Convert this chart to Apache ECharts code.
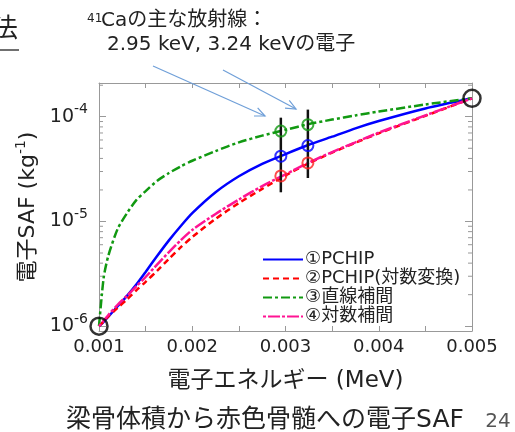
<!DOCTYPE html>
<html>
<head>
<meta charset="utf-8">
<script src="https://cdn.jsdelivr.net/npm/echarts@6/dist/echarts.min.js"></script>
<style>html,body{margin:0;padding:0;background:#fff}#c{width:515px;height:432px}</style>
</head>
<body>
<div id="c"></div>
<script>
// ---- data (x in MeV, y in kg^-1) ----
const xValues   = [0.001, 0.00105, 0.0011, 0.0012, 0.0013, 0.0014, 0.0015, 0.001625, 0.00175, 0.001875, 0.002, 0.00225, 0.0025, 0.00275, 0.003, 0.00325, 0.0035, 0.00375, 0.004, 0.0045, 0.005];
const pchip     = [1.0e-6, 1.1e-6, 1.23e-6, 1.55e-6, 1.95e-6, 2.5e-6, 3.3e-6, 4.7e-6, 6.6e-6, 9.0e-6, 1.2e-5, 1.9e-5, 2.7e-5, 3.55e-5, 4.4e-5, 5.4e-5, 6.45e-5, 7.75e-5, 9.1e-5, 1.2e-4, 1.5e-4];
const pchipLog  = [1.0e-6, 1.11e-6, 1.24e-6, 1.5e-6, 1.8e-6, 2.2e-6, 2.65e-6, 3.4e-6, 4.4e-6, 5.65e-6, 7.1e-6, 1.06e-5, 1.5e-5, 2.05e-5, 2.75e-5, 3.6e-5, 4.55e-5, 5.65e-5, 6.95e-5, 1.02e-4, 1.5e-4];
const linearInt = [1.0e-6, 2.9e-6, 4.7e-6, 8.5e-6, 1.2e-5, 1.6e-5, 1.95e-5, 2.45e-5, 2.9e-5, 3.35e-5, 3.8e-5, 4.7e-5, 5.7e-5, 6.6e-5, 7.5e-5, 8.5e-5, 9.4e-5, 1.03e-4, 1.12e-4, 1.31e-4, 1.5e-4];
const logInt    = [1.0e-6, 1.13e-6, 1.28e-6, 1.6e-6, 1.95e-6, 2.4e-6, 2.95e-6, 3.9e-6, 5.1e-6, 6.6e-6, 8.3e-6, 1.18e-5, 1.62e-5, 2.18e-5, 2.82e-5, 3.65e-5, 4.6e-5, 5.7e-5, 7.05e-5, 1.03e-4, 1.5e-4];
const seriesNames = ['①PCHIP', '②PCHIP(対数変換)', '③直線補間', '④対数補間'];

const markerX   = [0.00295, 0.00324];
const errLow    = [1.9e-5, 2.6e-5];
const errHigh   = [9.8e-5, 1.17e-4];
const pchipMark = [4.2e-5, 5.3e-5];
const linMark   = [7.3e-5, 8.4e-5];
const logMark   = [2.72e-5, 3.62e-5];
const nodeX     = [0.001, 0.005];
const nodeY     = [1.0e-6, 1.5e-4];

const xMin = 0.001, xMax = 0.005, xInterval = 0.0005;
const yMin = 9e-7, yMax = 2.1e-4;
const yMinorTicks = [2e-6,3e-6,4e-6,5e-6,6e-6,7e-6,8e-6,9e-6,2e-5,3e-5,4e-5,5e-5,6e-5,7e-5,8e-5,9e-5,2e-4];

const FONT = "'DejaVu Sans','Noto Sans CJK JP',sans-serif";
const TXT = '#222';
const AX = '#999';

const pair = (xs, ys) => xs.map((x, i) => [x, ys[i]]);

const chart = echarts.init(document.getElementById('c'), null, {renderer: 'canvas'});

function yLabel(v) {
  const e = Math.log10(v);
  if (Math.abs(e - Math.round(e)) > 1e-6) return '';
  return '{b|10}{s|' + Math.round(e) + '}';
}
function xLabel(v) {
  const k = v * 1000;
  if (Math.abs(k - Math.round(k)) > 1e-6) return '';
  return v.toFixed(3);
}

const axisCommonY = {
  type: 'log', logBase: 10, min: yMin, max: yMax,
  axisLine: {show: true, lineStyle: {color: AX, width: 1}},
  axisTick: {show: true, inside: true, length: 7, lineStyle: {color: AX}},
  splitLine: {show: false}, minorTick: {show: false}
};
const axisCommonX = {
  type: 'value', min: xMin, max: xMax, interval: xInterval,
  axisLine: {show: true, lineStyle: {color: AX, width: 1}},
  axisTick: {show: true, inside: true, length: 5, lineStyle: {color: AX}},
  splitLine: {show: false}
};

const lineStyles = [
  {color: '#0000ff', type: 'solid'},
  {color: '#ff0000', type: [6, 4]},
  {color: '#119911', type: [9, 3, 3, 3]},
  {color: '#ff1493', type: [3, 2, 12, 2]}
];
const lineData = [pchip, pchipLog, linearInt, logInt];

const series = lineData.map((ys, i) => ({
  name: seriesNames[i], type: 'line', data: pair(xValues, ys),
  symbol: 'none', showSymbol: false, smooth: 0.25, z: 3 + i,
  lineStyle: {color: lineStyles[i].color, type: lineStyles[i].type, width: 2.5},
  itemStyle: {color: lineStyles[i].color}
}));

// minor ticks on log axes (left and right)
series.push({
  type: 'custom', z: 2, silent: true,
  data: yMinorTicks.map(v => [xMin, v]),
  renderItem: function (params, api) {
    const v = api.value(1);
    const p0 = api.coord([xMin, v]);
    const p1 = api.coord([xMax, v]);
    const st = {stroke: AX, lineWidth: 1};
    return {type: 'group', children: [
      {type: 'line', shape: {x1: p0[0], y1: p0[1], x2: p0[0] + 4, y2: p0[1]}, style: st},
      {type: 'line', shape: {x1: p1[0], y1: p1[1], x2: p1[0] - 4, y2: p1[1]}, style: st}
    ]};
  },
  clip: false
});

// error bars
series.push({
  type: 'custom', z: 8, silent: true,
  data: markerX.map((x, i) => [x, errLow[i], errHigh[i]]),
  renderItem: function (params, api) {
    const a = api.coord([api.value(0), api.value(1)]);
    const b = api.coord([api.value(0), api.value(2)]);
    return {type: 'line', shape: {x1: a[0], y1: a[1], x2: b[0], y2: b[1]}, style: {stroke: '#111', lineWidth: 2.5}};
  }
});

const markSets = [[pchipMark, '#0000ff'], [linMark, '#119911'], [logMark, '#ff2020']];
markSets.forEach(([ys, col]) => {
  series.push({
    type: 'scatter', data: pair(markerX, ys), symbol: 'circle', symbolSize: 11, z: 10, silent: true,
    itemStyle: {color: 'rgba(0,0,0,0)', borderColor: col, borderWidth: 2}
  });
});
series.push({
  type: 'scatter', data: pair(nodeX, nodeY), symbol: 'circle', symbolSize: 17, z: 11, silent: true,
  itemStyle: {color: 'rgba(0,0,0,0)', borderColor: '#000', borderWidth: 2.5}
});

// annotation arrows
const arrows = [[[153, 66], [265, 116]], [[223, 70], [296, 109]]];
const arrowEls = [];
arrows.forEach(([s, e]) => {
  const ang = Math.atan2(e[1] - s[1], e[0] - s[0]);
  const L = 11, w = 0.42;
  const w1 = [e[0] - L * Math.cos(ang - w), e[1] - L * Math.sin(ang - w)];
  const w2 = [e[0] - L * Math.cos(ang + w), e[1] - L * Math.sin(ang + w)];
  arrowEls.push({type: 'line', shape: {x1: s[0], y1: s[1], x2: e[0], y2: e[1]}, style: {stroke: '#6f9fd8', lineWidth: 1.2}, z: 20});
  arrowEls.push({type: 'polyline', shape: {points: [w1, e, w2]}, style: {stroke: '#6f9fd8', lineWidth: 1.2, fill: null}, z: 20});
});

const option = {
  backgroundColor: '#fff',
  animation: false,
  grid: {left: 99, right: 43, top: 83, bottom: 101, containLabel: false},
  legend: {
    data: seriesNames, orient: 'vertical', left: 257, top: 245,
    itemWidth: 40, itemHeight: 12, itemGap: 0,
    itemStyle: {opacity: 0},
    textStyle: {fontFamily: FONT, fontSize: 18, lineHeight: 19, color: TXT, padding: [0, 0, 0, -3]},
    backgroundColor: 'rgba(0,0,0,0)'
  },
  xAxis: [
    Object.assign({}, axisCommonX, {
      position: 'bottom',
      axisLabel: {formatter: xLabel, fontFamily: FONT, fontSize: 18, color: TXT, margin: 7, showMinLabel: true, showMaxLabel: true},
      name: '電子エネルギー (MeV)', nameLocation: 'middle', nameGap: 39,
      nameTextStyle: {fontFamily: FONT, fontSize: 23, color: TXT}
    }),
    Object.assign({}, axisCommonX, {position: 'top', axisLabel: {show: false}})
  ],
  yAxis: [
    Object.assign({}, axisCommonY, {
      position: 'left',
      axisLabel: {formatter: yLabel, margin: 11, color: TXT,
        rich: {b: {fontFamily: FONT, fontSize: 19, color: TXT, lineHeight: 28},
               s: {fontFamily: FONT, fontSize: 14, color: TXT, lineHeight: 14, verticalAlign: 'top'}}},
      name: '{a|電子SAF (kg}{s|-1}{a|)}', nameLocation: 'middle', nameGap: 55, nameRotate: 90,
      nameTextStyle: {rich: {a: {fontFamily: FONT, fontSize: 22, color: TXT, lineHeight: 28},
                             s: {fontFamily: FONT, fontSize: 14, color: TXT, lineHeight: 14, verticalAlign: 'top'}}}
    }),
    Object.assign({}, axisCommonY, {position: 'right', axisLabel: {show: false}})
  ],
  series: series,
  graphic: [
    {type: 'text', left: -8, top: 14, style: {text: '法', font: "26px 'Noto Sans CJK JP'", fill: TXT}, z: 20},
    {type: 'line', shape: {x1: 0, y1: 50, x2: 19, y2: 50}, style: {stroke: TXT, lineWidth: 1.3}, z: 20},
    {type: 'text', x: 87, y: 13, style: {text: '41', font: "12px " + FONT, fill: TXT}, z: 20},
    {type: 'text', x: 101, y: 11, style: {text: 'Caの主な放射線：', font: "20px " + FONT, fill: TXT}, z: 20},
    {type: 'text', x: 107, y: 35, style: {text: '2.95 keV, 3.24 keVの電子', font: "20px " + FONT, fill: TXT}, z: 20},
    {type: 'text', x: 265, y: 420, style: {text: '梁骨体積から赤色骨髄への電子SAF', font: "25px " + FONT, fill: TXT, align: 'center', verticalAlign: 'middle'}, z: 20},
    {type: 'text', x: 498, y: 422, style: {text: '24', font: "20px " + FONT, fill: '#555', align: 'center', verticalAlign: 'middle'}, z: 20}
  ].concat(arrowEls)
};
chart.setOption(option);
</script>
</body>
</html>
